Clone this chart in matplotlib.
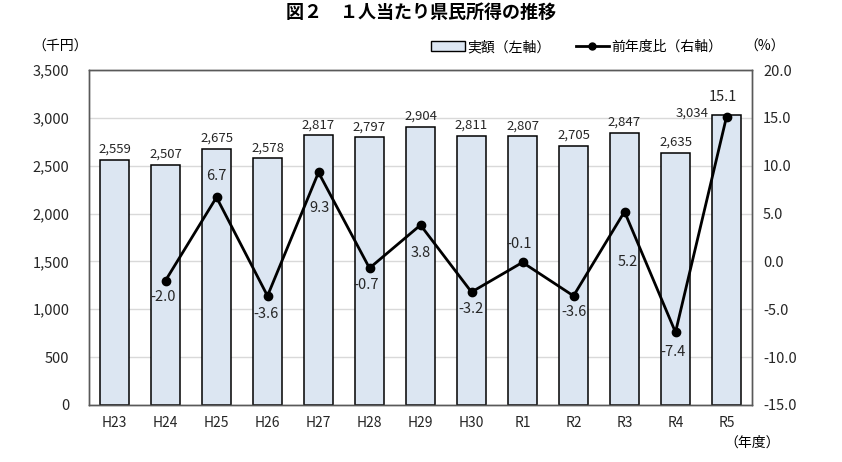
import numpy as np
import matplotlib
matplotlib.use("Agg")
import matplotlib.pyplot as plt
from matplotlib.patches import Patch
from matplotlib.lines import Line2D

plt.rcParams['font.family'] = ['Noto Sans CJK JP', 'DejaVu Sans']

# data
years = ['H23', 'H24', 'H25', 'H26', 'H27', 'H28', 'H29', 'H30', 'R1', 'R2', 'R3', 'R4', 'R5']
income = [2559, 2507, 2675, 2578, 2817, 2797, 2904, 2811, 2807, 2705, 2847, 2635, 3034]
yoy = [np.nan, -2.0, 6.7, -3.6, 9.3, -0.7, 3.8, -3.2, -0.1, -3.6, 5.2, -7.4, 15.1]

# label offsets for the line values (pixels)
yoy_offsets = [None, (-2, -16), (0, 21), (-2, -18), (1, -36), (-3, -17), (0, -28),
               (-1, -17), (-3, 18), (0, -16), (3, -50), (-2, -20), (-4, 20)]

fig = plt.figure(figsize=(8.42, 4.62), dpi=100)
ax = fig.add_axes([89 / 842, 1 - 405 / 462, 663 / 842, 335 / 462])
ax2 = ax.twinx()

x = np.arange(len(years))
ax.bar(x, income, width=0.57, color='#DCE6F2', edgecolor='black', linewidth=1.1, zorder=2)
ax.set_xlim(-0.5, len(years) - 0.5)
ax.set_ylim(0, 3500)
ax.set_yticks(range(0, 3501, 500))
ax.set_yticklabels([f'{v:,}' for v in range(0, 3501, 500)])
ax.yaxis.grid(True, color='#D9D9D9', linewidth=1, zorder=0)
ax.set_axisbelow(True)
ax.set_xticks(x)
ax.set_xticklabels(years)
ax.tick_params(axis='y', length=0, pad=14, labelsize=10.5, labelcolor='#262626')
ax.tick_params(axis='x', length=0, pad=8, labelsize=10, labelcolor='#262626')

for i, v in enumerate(income):
    if i == len(income) - 1:
        ax.annotate(f'{v:,}', (i, v), xytext=(-18, 1), textcoords='offset pixels',
                    ha='right', va='center', fontsize=9.5, color='#262626')
    else:
        ax.annotate(f'{v:,}', (i, v), xytext=(0, 4), textcoords='offset pixels',
                    ha='center', va='bottom', fontsize=9.5, color='#262626')

ax2.plot(x, yoy, color='black', linewidth=2, marker='o', markersize=6, zorder=3)
ax2.set_ylim(-15, 20)
ax2.set_yticks(range(-15, 21, 5))
ax2.set_yticklabels([f'{v:.1f}' for v in range(-15, 21, 5)])
ax2.tick_params(axis='y', length=0, pad=8, labelsize=10.5, labelcolor='#262626')

for i, v in enumerate(yoy):
    if np.isnan(v):
        continue
    dx, dy = yoy_offsets[i]
    ax2.annotate(f'{v:.1f}', (i, v), xytext=(dx, dy), textcoords='offset pixels',
                 ha='center', va='center', fontsize=10.5, color='#262626')

for a in (ax, ax2):
    for s in a.spines.values():
        s.set_color('#595959')
        s.set_linewidth(1)

# title and axis captions
fig.text(0.5, 1 - 12 / 462, '図２　１人当たり県民所得の推移', ha='center', va='center',
         fontsize=13, fontweight='bold')
fig.text(60 / 842, 1 - 47 / 462, '（千円）', ha='center', va='center', fontsize=10)
fig.text(765 / 842, 1 - 47 / 462, '（%）', ha='center', va='center', fontsize=10)
fig.text(752 / 842, 1 - 443 / 462, '（年度）', ha='center', va='center', fontsize=10)

handles = [Patch(facecolor='#DCE6F2', edgecolor='black', linewidth=1),
           Line2D([], [], color='black', linewidth=2, marker='o', markersize=5)]
fig.legend(handles, ['実額（左軸）', '前年度比（右軸）'], loc='center',
           bbox_to_anchor=(577 / 842, 1 - 47 / 462), ncol=2, frameon=False,
           fontsize=10, handlelength=2.4, handletextpad=0.2, columnspacing=1.8)

fig.savefig('out.png', dpi=100)
